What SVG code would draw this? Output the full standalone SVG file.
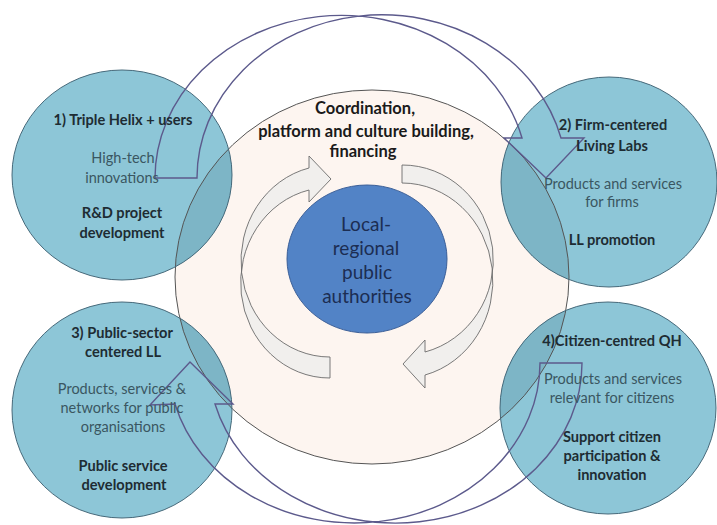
<svg xmlns="http://www.w3.org/2000/svg" width="717" height="525" viewBox="0 0 717 525">
<style>
.teal{fill:#8dc6d7;stroke:none}
.tealov{fill:#7db5c6;stroke:none}
.tealedge{fill:none;stroke:#46697a;stroke-width:1}
.beige{fill:#fdf5f0}
.beigeedge{fill:none;stroke:#555;stroke-width:1}
.big{fill:none;stroke:#5c5a8c;stroke-width:1.4;stroke-linejoin:miter}
.inner{fill:#f1efed;stroke:#6b6b6b;stroke-width:0.9}
text{font-family:"Lato","Liberation Sans",sans-serif;text-anchor:middle}
.b{font-weight:bold;font-size:14.6px;fill:#1e2c33}
.n{font-size:14.5px;fill:#3a5661}
.c{font-weight:bold;font-size:16.5px;fill:#1a1a1a}
.core{font-size:19px;fill:#1c2d52}
</style>
<defs>
<clipPath id="beigeclip"><ellipse cx="372" cy="277" rx="197" ry="187"/></clipPath>
</defs>
<rect width="717" height="525" fill="#ffffff"/>
<g id="node-hub">
<ellipse class="beige" cx="372" cy="277" rx="197" ry="187"/>
</g>
<g id="node-1">
<ellipse class="teal" cx="122" cy="175" rx="110" ry="105"/>
</g>
<g id="node-2">
<ellipse class="teal" cx="609" cy="182" rx="108" ry="105"/>
</g>
<g id="node-3">
<ellipse class="teal" cx="122" cy="410" rx="110" ry="108"/>
</g>
<g id="node-4">
<ellipse class="teal" cx="608" cy="408" rx="108" ry="106"/>
</g>
<g id="overlaps" clip-path="url(#beigeclip)">
<ellipse class="tealov" cx="122" cy="175" rx="110" ry="105"/>
<ellipse class="tealov" cx="609" cy="182" rx="108" ry="105"/>
<ellipse class="tealov" cx="122" cy="410" rx="110" ry="108"/>
<ellipse class="tealov" cx="608" cy="408" rx="108" ry="106"/>
</g>
<g id="outlines">
<ellipse class="beigeedge" cx="372" cy="277" rx="197" ry="187"/>
<ellipse class="tealedge" cx="122" cy="175" rx="110" ry="105"/>
<ellipse class="tealedge" cx="609" cy="182" rx="108" ry="105"/>
<ellipse class="tealedge" cx="122" cy="410" rx="110" ry="108"/>
<ellipse class="tealedge" cx="608" cy="408" rx="108" ry="106"/>
</g>
<g id="node-core">
<ellipse cx="367" cy="259" rx="80" ry="74" fill="#5283c6" stroke="#3b5f98" stroke-width="1"/>
<text class="core" x="366" y="231">Local-</text>
<text class="core" x="366" y="255">regional</text>
<text class="core" x="367" y="279">public</text>
<text class="core" x="367" y="303">authorities</text>
</g>
<g id="connectors">
<path class="big" d="M155,178 A186.4 163 0 0 1 522,138 L504,138 L546,178 L584,138 L561,138 A184.8 163 0 0 0 197,178 Z"/>
<path class="big" d="M540,363 L582,363 A186.6 160 0 0 1 215,404 L233,404 L190,362 L150,405 L175,404 A185.6 160 0 0 0 540,363 Z"/>
<path class="inner" d="M330,378 A89 95.3 0 0 1 309,190 L309,202 L331,179 L309,156 L309,168 A89 95.85 0 0 0 330,357 Z"/>
<path class="inner" d="M402,183 L402,165 A91 95 0 0 1 425,352 L425,340 L403,364 L425,388 L425,375 A91 97.6 0 0 0 402,183 Z"/>
</g>
<g id="hub-text">
<text class="c" x="365" y="114">Coordination,</text>
<text class="c" x="366" y="137">platform and culture building,</text>
<text class="c" x="363" y="157">financing</text>
</g>
<g id="text-1">
<text class="b" x="123" y="125">1) Triple Helix + users</text>
<text class="n" x="123" y="163">High-tech</text>
<text class="n" x="122" y="183">innovations</text>
<text class="b" x="122" y="218">R&amp;D project</text>
<text class="b" x="122" y="238">development</text>
</g>
<g id="text-2">
<text class="b" x="613" y="130">2) Firm-centered</text>
<text class="b" x="612" y="151">Living Labs</text>
<text class="n" x="613" y="189">Products and services</text>
<text class="n" x="612" y="207">for firms</text>
<text class="b" x="612" y="245">LL promotion</text>
</g>
<g id="text-3">
<text class="b" x="122" y="338">3) Public-sector</text>
<text class="b" x="123" y="357">centered LL</text>
<text class="n" x="122" y="394">Products, services &amp;</text>
<text class="n" x="122" y="413">networks for public</text>
<text class="n" x="123" y="432">organisations</text>
<text class="b" x="123" y="471">Public service</text>
<text class="b" x="124" y="490">development</text>
</g>
<g id="text-4">
<text class="b" x="612" y="346">4)Citizen-centred QH</text>
<text class="n" x="613" y="384">Products and services</text>
<text class="n" x="612" y="403">relevant for citizens</text>
<text class="b" x="612" y="442">Support citizen</text>
<text class="b" x="612" y="461">participation &amp;</text>
<text class="b" x="612" y="480">innovation</text>
</g>
</svg>
